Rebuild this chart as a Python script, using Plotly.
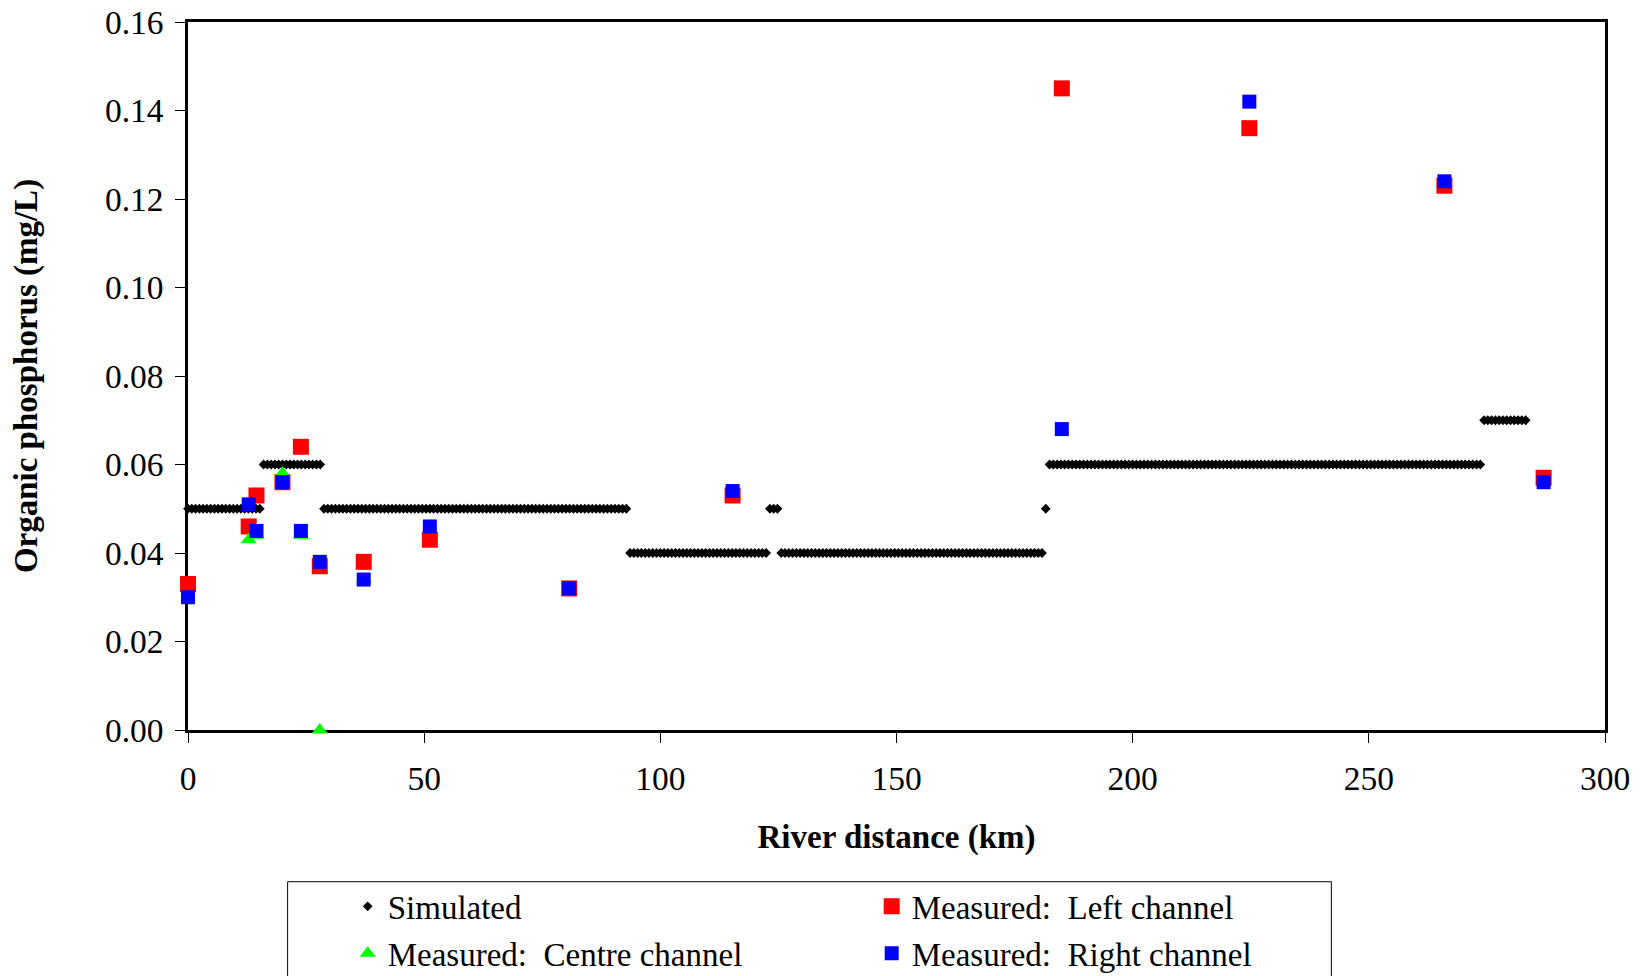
import numpy as np
import plotly.graph_objects as go

# ---- Simulated (model output on a regular river grid) ----
sim_step_km = 0.8
sim_end_km = 283.2
sim_seg_start = [0.0, 16.0, 28.8, 93.6, 123.2, 125.6, 181.6, 182.4, 274.4]
sim_seg_value = [0.05, 0.06, 0.05, 0.04, 0.05, 0.04, 0.05, 0.06, 0.07]

# ---- Measured ----
meas_x = [0.0, 12.85, 14.5, 20.0, 23.9, 27.9, 37.2, 51.2, 80.7, 115.3, 185.0, 224.7, 266.0, 287.0]
left_y = [0.033, 0.046, 0.053, 0.056, 0.064, 0.037, 0.038, 0.043, 0.032, 0.053, 0.145, 0.136, 0.123, 0.057]
right_y = [0.030, 0.051, 0.045, 0.056, 0.045, 0.038, 0.034, 0.046, 0.032, 0.054, 0.068, 0.142, 0.124, 0.056]
centre_x = [12.85, 14.5, 20.0, 23.9, 27.9, 37.2]
centre_y = [0.043, 0.044, 0.058, 0.044, 0.000, 0.034]

x_ticks = [0, 50, 100, 150, 200, 250, 300]
y_ticks = [0.00, 0.02, 0.04, 0.06, 0.08, 0.10, 0.12, 0.14, 0.16]

# build simulated table
sim_x = np.round(np.arange(0, sim_end_km + 1e-6, sim_step_km), 3)
idx = np.searchsorted(np.array(sim_seg_start), sim_x, side="right") - 1
sim_y = np.array(sim_seg_value)[idx]

FONT = "Liberation Serif, Times New Roman, serif"

fig = go.Figure()
fig.add_trace(go.Scatter(x=sim_x, y=sim_y, mode="markers", name="Simulated",
                         marker=dict(symbol="diamond", size=7.5, color="black"),
                         cliponaxis=False, legend="legend"))
fig.add_trace(go.Scatter(x=meas_x, y=left_y, mode="markers", name="Measured:  Left channel",
                         marker=dict(symbol="square", size=16, color="#ff0000", line=dict(width=0)),
                         cliponaxis=False, legend="legend"))
fig.add_trace(go.Scatter(x=centre_x, y=centre_y, mode="markers", name="Measured:  Centre channel",
                         marker=dict(symbol="triangle-up", size=14, color="#00ff00", line=dict(width=0)),
                         cliponaxis=False, legend="legend2"))
fig.add_trace(go.Scatter(x=meas_x, y=right_y, mode="markers", name="Measured:  Right channel",
                         marker=dict(symbol="square", size=14, color="#0000ff", line=dict(width=0)),
                         cliponaxis=False, legend="legend2"))

axis_common = dict(showgrid=False, zeroline=False, showline=True, linecolor="black",
                   linewidth=2.5, mirror=True, ticks="outside", ticklen=10, tickwidth=1,
                   tickcolor="black", layer="below traces", ticklabeloverflow="allow",
                   tickfont=dict(family=FONT, size=33.5, color="black"))

fig.update_xaxes(range=[0, 300], tickvals=x_ticks, ticktext=[str(v) for v in x_ticks],
                 ticklabelstandoff=7,
                 title=dict(text="<b>River distance (km)</b>", standoff=29,
                            font=dict(family=FONT, size=33, color="black")),
                 **axis_common)
fig.update_yaxes(range=[0, 0.16], tickvals=y_ticks, ticktext=[f"{v:.2f}" for v in y_ticks],
                 ticklabelstandoff=5,
                 title=dict(text="<b>Organic phosphorus (mg/L)</b>", standoff=62,
                            font=dict(family=FONT, size=33, color="black")),
                 **axis_common)

legend_common = dict(orientation="h", x=0.1127, xanchor="left", yanchor="top",
                     entrywidth=479, entrywidthmode="pixels", borderwidth=0,
                     bgcolor="rgba(0,0,0,0)", itemwidth=30,
                     font=dict(family=FONT, size=33, color="black"), traceorder="normal")

fig.update_layout(
    width=1632, height=968,
    paper_bgcolor="white", plot_bgcolor="white",
    margin=dict(l=180, r=35, t=14, b=246, autoexpand=False),
    showlegend=True,
    legend=dict(y=-0.2095, **legend_common),
    legend2=dict(y=-0.2759, **legend_common),
    shapes=[dict(type="rect", xref="paper", yref="paper", x0=0.0703, x1=0.8069,
                 y0=-0.2143, y1=-0.6, line=dict(color="black", width=1), fillcolor="rgba(0,0,0,0)",
                 layer="above")],
)

fig.write_html("out.html")
